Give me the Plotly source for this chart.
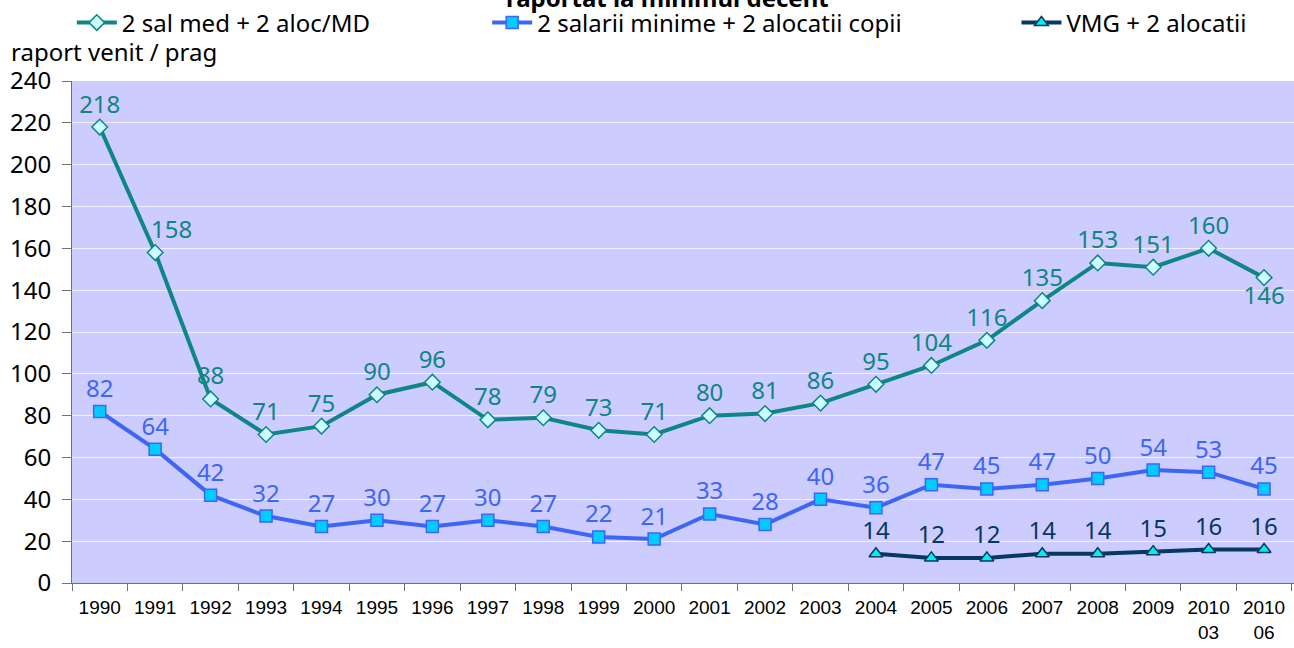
import plotly.graph_objects as go

categories = ["1990", "1991", "1992", "1993", "1994", "1995", "1996", "1997", "1998",
              "1999", "2000", "2001", "2002", "2003", "2004", "2005", "2006", "2007",
              "2008", "2009", "2010<br>03", "2010<br>06"]
sal_med = [218, 158, 88, 71, 75, 90, 96, 78, 79, 73, 71, 80, 81, 86, 95, 104, 116, 135,
           153, 151, 160, 146]
sal_min = [82, 64, 42, 32, 27, 30, 27, 30, 27, 22, 21, 33, 28, 40, 36, 47, 45, 47, 50,
           54, 53, 45]
vmg = [None] * 14 + [14, 12, 12, 14, 14, 15, 16, 16]

names = ["2 sal med + 2 aloc/MD", "2 salarii minime + 2 alocatii copii", "VMG + 2 alocatii"]
title_text = "raportat la minimul decent"
y_title = "raport venit / prag"

FONT = "Noto Sans, DejaVu Sans, sans-serif"
XFONT = "Liberation Sans, Arial, sans-serif"
TEAL = "#0F8585"
BLUE = "#3D66F5"
NAVY = "#073763"
FS = 24

side_idx = 1  # label of this point sits right of the line
pos_med = ["top center"] * len(sal_med)
pos_med[-1] = "bottom center"
text_med = [str(v) for v in sal_med]
text_med[side_idx] = ""

fig = go.Figure()
fig.add_trace(go.Scatter(
    x=categories, y=sal_med, name=names[0], mode="lines+markers+text",
    line=dict(color=TEAL, width=4),
    marker=dict(symbol="diamond", size=12, color="#CCFFFF", line=dict(color=TEAL, width=1.5)),
    text=text_med, textposition=pos_med,
    textfont=dict(family=FONT, size=FS, color=TEAL), legend="legend", cliponaxis=False))
fig.add_trace(go.Scatter(
    x=categories, y=sal_min, name=names[1], mode="lines+markers+text",
    line=dict(color=BLUE, width=4),
    marker=dict(symbol="square", size=12, color="#00CCFF", line=dict(color=BLUE, width=1.5)),
    text=[str(v) for v in sal_min], textposition="top center",
    textfont=dict(family=FONT, size=FS, color=BLUE), legend="legend2", cliponaxis=False))
fig.add_trace(go.Scatter(
    x=categories, y=vmg, name=names[2], mode="lines+markers+text",
    line=dict(color=NAVY, width=4),
    marker=dict(symbol="triangle-up", size=12, color="#00EEEE", line=dict(color=NAVY, width=1.5)),
    text=[("" if v is None else str(v)) for v in vmg], textposition="top center",
    textfont=dict(family=FONT, size=FS, color=NAVY), legend="legend3", cliponaxis=False))

leg_common = dict(orientation="h", xref="container", yref="container",
                  yanchor="middle", y=0.9645, xanchor="left",
                  bgcolor="rgba(0,0,0,0)", font=dict(family=FONT, size=FS, color="#000000"),
                  itemwidth=40)
fig.update_layout(
    width=1294, height=648,
    margin=dict(l=72, r=0, t=81, b=65, autoexpand=False),
    paper_bgcolor="white", plot_bgcolor="#CCCCFF",
    showlegend=True,
    legend=dict(x=0.0555, **leg_common),
    legend2=dict(x=0.3765, **leg_common),
    legend3=dict(x=0.7855, **leg_common),
    xaxis=dict(type="category", range=[-0.5, 21.54], tickson="boundaries",
               ticks="outside", ticklen=7, tickcolor="#707070", showline=True,
               linecolor="#707070", linewidth=1, showgrid=False, tickangle=0,
               ticklabelstandoff=7,
               tickfont=dict(family=XFONT, size=19, color="#000000")),
    yaxis=dict(range=[0, 240], dtick=20, ticks="outside", ticklen=9, tickcolor="#707070",
               showline=True, linecolor="#707070", linewidth=1, gridcolor="#F2F2FF",
               gridwidth=1, zeroline=False, ticklabelstandoff=6,
               tickfont=dict(family=FONT, size=FS, color="#000000")),
    annotations=[
        dict(text=y_title, xref="paper", yref="paper", x=-0.0515, y=(583 - 51) / 502,
             xanchor="left", yanchor="middle", showarrow=False,
             font=dict(family=FONT, size=FS, color="#000000")),
        dict(text="<b>" + title_text + "</b>", xref="paper", yref="paper",
             x=0.4877, y=(583 + 2) / 502, xanchor="center", yanchor="middle", showarrow=False,
             font=dict(family=FONT, size=24, color="#000000")),
        dict(text=str(sal_med[side_idx]), x=side_idx, y=sal_med[side_idx], xref="x", yref="y",
             xshift=16, yshift=24, showarrow=False,
             font=dict(family=FONT, size=FS, color=TEAL)),
    ],
)

fig.write_html("out.html", config={"displayModeBar": False},
               post_script="document.body.style.margin='0';")
